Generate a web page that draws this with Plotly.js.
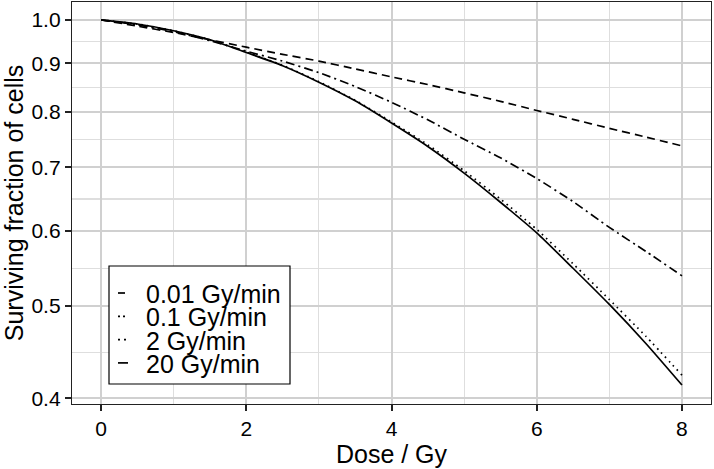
<!DOCTYPE html>
<html>
<head>
<meta charset="utf-8">
<script src="https://cdn.plot.ly/plotly-3.0.1.min.js"></script>
<style>html,body{margin:0;padding:0;background:#fff;}#chart{width:714px;height:469px;}</style>
</head>
<body>
<div id="chart"></div>
<script>
// Dose (Gy)
const dose = [0, 0.5, 1, 1.5, 2, 2.5, 3, 3.5, 4, 4.5, 5, 5.5, 6, 6.5, 7, 7.5, 8];
// Surviving fraction for each dose rate
const sf_001 = [1, 0.985, 0.970, 0.953, 0.936, 0.920, 0.905, 0.888, 0.871, 0.855, 0.838, 0.821, 0.803, 0.786, 0.769, 0.753, 0.737];
const sf_01  = [1, 0.988, 0.972, 0.951, 0.927, 0.905, 0.880, 0.851, 0.819, 0.785, 0.749, 0.716, 0.681, 0.644, 0.605, 0.571, 0.538];
const sf_2   = [1, 0.990, 0.974, 0.953, 0.925, 0.896, 0.861, 0.823, 0.781, 0.739, 0.694, 0.648, 0.602, 0.554, 0.508, 0.465, 0.423];
const sf_20  = [1, 0.990, 0.974, 0.953, 0.924, 0.895, 0.860, 0.822, 0.779, 0.736, 0.690, 0.643, 0.597, 0.548, 0.502, 0.457, 0.413];
const seriesNames = ["0.01 Gy/min", "0.1 Gy/min", "2 Gy/min", "20 Gy/min"];
const xTicks = [0, 2, 4, 6, 8];
const yTicks = [0.4, 0.5, 0.6, 0.7, 0.8, 0.9, 1.0];
const yTickText = ["0.4", "0.5", "0.6", "0.7", "0.8", "0.9", "1.0"];

const dashes = ["8px,5px", "9px,4px,2px,4px", "1.6px,4.2px", "solid"];
const keyDashes = ["7px,20px", "2px,3px,2px,20px", "2px,4px", "solid"];
const allY = [sf_001, sf_01, sf_2, sf_20];
const traces = allY.map((y, i) => ({
  x: dose, y: y, name: seriesNames[i], type: "scatter", mode: "lines",
  line: {color: "black", width: 1.7, dash: dashes[i], shape: "spline", smoothing: 0.6}
}));

const yMinor = [];
for (let i = 0; i < yTicks.length - 1; i++) yMinor.push(Math.sqrt(yTicks[i] * yTicks[i + 1]));

// plot-area geometry (pixels) used to place the legend box
const W = 714, H = 469, M = {l: 72, r: 3, t: 2, b: 65};
const pw = W - M.l - M.r, ph = H - M.t - M.b;
const px = v => (v - M.l) / pw;
const py = v => (H - M.b - v) / ph;

const font = "Liberation Sans, Arial, Helvetica, sans-serif";
const shapes = [{
  type: "rect", xref: "paper", yref: "paper", layer: "above",
  x0: px(109), x1: px(290), y0: py(384), y1: py(266),
  line: {color: "black", width: 1.2}, fillcolor: "white"
}];
const annotations = [];
seriesNames.forEach((n, i) => {
  const yc = 293 + i * 23.3;
  shapes.push({
    type: "line", xref: "paper", yref: "paper", layer: "above",
    x0: px(118), x1: px(i === 2 ? 127 : 128), y0: py(yc), y1: py(yc),
    line: {color: "black", width: 1.7, dash: keyDashes[i]}
  });
  annotations.push({
    xref: "paper", yref: "paper", x: px(144), y: py(yc + 1), xanchor: "left", yanchor: "middle",
    text: n, showarrow: false, font: {size: 25, family: font, color: "black"}
  });
});

const layout = {
  width: W, height: H,
  margin: M,
  paper_bgcolor: "white", plot_bgcolor: "white",
  font: {family: font, color: "black"},
  showlegend: false,
  shapes: shapes, annotations: annotations,
  xaxis: {
    range: [-0.4, 8.4], tickmode: "array", tickvals: xTicks,
    ticks: "outside", ticklen: 6, tickwidth: 2, tickcolor: "#222",
    tickfont: {size: 21, family: font, color: "black"},
    showline: true, mirror: true, linecolor: "#222", linewidth: 1.2,
    showgrid: true, gridcolor: "#d0d0d0", gridwidth: 2, zeroline: false,
    minor: {tickmode: "array", tickvals: [1, 3, 5, 7], showgrid: true, gridcolor: "#dedede", gridwidth: 1.2, ticks: ""},
    title: {text: "Dose / Gy", font: {size: 25, family: font, color: "black"}, standoff: 6}
  },
  yaxis: {
    type: "log", range: [Math.log10(0.3981) - 0.004, 0.0188],
    tickmode: "array", tickvals: yTicks, ticktext: yTickText,
    ticks: "outside", ticklen: 6, tickwidth: 2, tickcolor: "#222",
    tickfont: {size: 21, family: font, color: "black"},
    showline: true, mirror: true, linecolor: "#222", linewidth: 1.2,
    showgrid: true, gridcolor: "#d0d0d0", gridwidth: 2, zeroline: false,
    minor: {tickmode: "array", tickvals: yMinor, showgrid: true, gridcolor: "#dedede", gridwidth: 1.2, ticks: ""},
    title: {text: "Surviving fraction of cells", font: {size: 25, family: font, color: "black"}, standoff: 6}
  }
};
Plotly.newPlot("chart", traces, layout, {displayModeBar: false, staticPlot: true});
</script>
</body>
</html>
